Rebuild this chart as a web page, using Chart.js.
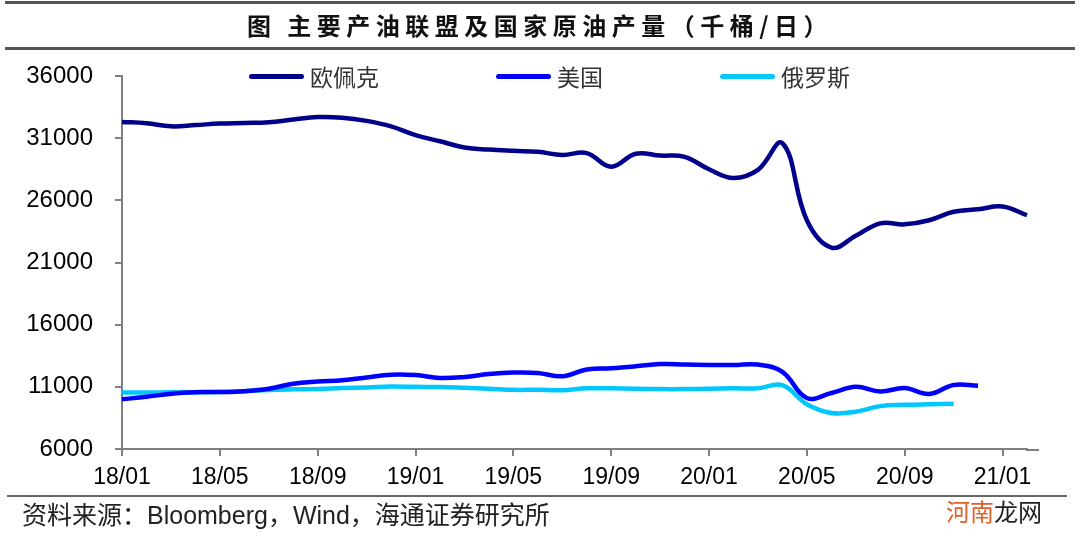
<!DOCTYPE html>
<html>
<head>
<meta charset="utf-8">
<script src="https://cdn.jsdelivr.net/npm/chart.js@4.4.0/dist/chart.umd.min.js"></script>
<style>
  html, body { margin: 0; padding: 0; background: #fff; }
  #wrap { position: relative; width: 1080px; height: 541px; overflow: hidden; }
  #chart { position: absolute; left: 0; top: 0; }
  .rule { position: absolute; background: #555; }
  #title { position: absolute; top: 9px; left: 0; width: 1080px; text-align: center;
    font: bold 24px "Noto Sans CJK SC"; letter-spacing: 5.5px; color: #111; line-height: 32px; }
  #legend { position: absolute; left: 249px; top: 62px; display: flex; gap: 117px;
    font: 23px "Noto Sans CJK SC"; color: #333; line-height: 28px; }
  #legend .item { display: flex; align-items: center; }
  #legend .swatch { width: 55px; height: 5px; border-radius: 3px; margin-right: 6px; }
  #source { position: absolute; left: 22px; top: 500px; font: 25px "Liberation Sans", "Noto Sans CJK SC";
    color: #222; line-height: 30px; }
  #mark { position: absolute; left: 944px; top: 498px; font: 24px "Noto Sans CJK SC"; line-height: 26px;
    background: #fff; padding: 0 2px; }
</style>
</head>
<body>
<div id="wrap">
  <canvas id="chart" width="1080" height="541"></canvas>
  <div class="rule" style="left:5px;top:1px;width:1070px;height:3px;"></div>
  <div id="title">图 主要产油联盟及国家原油产量（千桶/日）</div>
  <div class="rule" style="left:5px;top:47px;width:1070px;height:3px;"></div>
  <div id="legend"></div>
  <div class="rule" style="left:7px;top:495px;width:1060px;height:2px;background:#666;"></div>
  <div id="source">资料来源：Bloomberg，Wind，海通证券研究所</div>
  <div id="mark"><span style="color:#e0622a">河南</span><span style="color:#222">龙网</span></div>
</div>
<script>
// monthly, 18/01 .. 21/02
const months = [
  "18/01", "18/02", "18/03", "18/04", "18/05", "18/06", "18/07", "18/08", "18/09", "18/10", "18/11", "18/12",
  "19/01", "19/02", "19/03", "19/04", "19/05", "19/06", "19/07", "19/08", "19/09", "19/10", "19/11", "19/12",
  "20/01", "20/02", "20/03", "20/04", "20/05", "20/06", "20/07", "20/08", "20/09", "20/10", "20/11", "20/12",
  "21/01", "21/02"
]

const opec = [
  32300, 32200, 31950, 32050, 32180, 32220, 32280, 32500, 32700, 32650, 32390, 31950,
  31250, 30750, 30250, 30080, 29980, 29900, 29650, 29800, 28700, 29750, 29600, 29500,
  28500, 27800, 28450, 30600, 24400, 22200, 23150, 24150, 24070, 24400, 25080, 25280,
  25500, 24800
]

const usa = [
  10000, 10200, 10450, 10570, 10580, 10650, 10850, 11250, 11420, 11530, 11750, 11980,
  11950, 11720, 11800, 12030, 12150, 12120, 11850, 12400, 12500, 12650, 12830, 12800,
  12760, 12750, 12790, 12200, 10100, 10500, 11000, 10630, 10900, 10420, 11150, 11080
]

const russia = [
  10550, 10550, 10560, 10570, 10580, 10650, 10750, 10800, 10830, 10900, 10950, 11030,
  11000, 10980, 10920, 10850, 10760, 10760, 10720, 10880, 10880, 10850, 10820, 10820,
  10850, 10880, 10880, 11130, 9600, 8900, 9000, 9450, 9550, 9600, 9640
]

const seriesNames = ["欧佩克", "美国", "俄罗斯"]
const seriesColors = ["#00008b", "#0000ff", "#00c8ff"]

const axisColor = "#808080"

// x axis line runs a little past the last point in the original
const axisTail = {
  id: "axisTail",
  afterDraw(chart) {
    const ctx = chart.ctx
    const x = chart.scales.x
    ctx.save()
    ctx.strokeStyle = axisColor
    ctx.lineWidth = 2
    ctx.beginPath()
    ctx.moveTo(x.right - 1, x.top + 1)
    ctx.lineTo(x.right + 12, x.top + 1)
    ctx.stroke()
    ctx.restore()
  },
}

function makeSet(i, values) {
  return {
    label: seriesNames[i],
    data: values,
    borderColor: seriesColors[i],
    backgroundColor: seriesColors[i],
    borderWidth: 4.5,
    pointRadius: 0,
    tension: 0.4,
    fill: false,
    spanGaps: false,
  }
}

const ctx = document.getElementById("chart").getContext("2d")
const chart = new Chart(ctx, {
  type: "line",
  data: {
    labels: months,
    datasets: [makeSet(0, opec), makeSet(1, usa), makeSet(2, russia)],
  },
  options: {
    responsive: false,
    animation: false,
    layout: { padding: { top: 76, right: 53, left: 0, bottom: 0 } },
    plugins: { legend: { display: false }, tooltip: { enabled: false } },
    scales: {
      x: {
        afterFit: (s) => { s.height = 92 },
        border: { color: axisColor, width: 2 },
        grid: { drawOnChartArea: false, drawTicks: true, tickLength: 7, color: axisColor, lineWidth: 2 },
        ticks: {
          autoSkip: false,
          maxRotation: 0,
          padding: 8,
          color: "#000",
          font: { family: "Liberation Sans", size: 23 },
          callback: (v, i) => (i % 4 === 0 ? months[i] : null),
        },
      },
      y: {
        min: 6000,
        max: 36000,
        afterFit: (s) => { s.width = 122 },
        border: { color: axisColor, width: 2 },
        grid: { drawOnChartArea: false, drawTicks: true, tickLength: 7, color: axisColor, lineWidth: 2 },
        ticks: {
          stepSize: 5000,
          padding: 22,
          color: "#000",
          font: { family: "Liberation Sans", size: 24 },
          callback: (v) => String(v),
        },
      },
    },
  },
  plugins: [axisTail],
})

// legend built from the datasets
const legend = document.getElementById("legend")
chart.data.datasets.forEach((ds) => {
  const item = document.createElement("div")
  item.className = "item"
  const sw = document.createElement("span")
  sw.className = "swatch"
  sw.style.background = ds.borderColor
  const txt = document.createElement("span")
  txt.textContent = ds.label
  item.appendChild(sw)
  item.appendChild(txt)
  legend.appendChild(item)
})
</script>
</body>
</html>
